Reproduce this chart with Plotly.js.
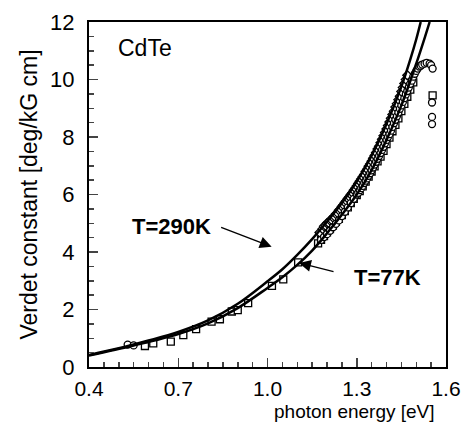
<!DOCTYPE html>
<html><head><meta charset="utf-8">
<script src="https://cdn.plot.ly/plotly-3.0.1.min.js"></script>
<style>html,body{margin:0;padding:0;background:#fff}</style>
</head><body><div id="chart" style="width:464px;height:423px"></div>
<script>
// Fitted curves
const curve290E = [0.40,0.50,0.60,0.70,0.80,0.90,1.00,1.05,1.10,1.15,1.20,1.25,1.30,1.35,1.40,1.45,1.48,1.50,1.515];
const curve290V = [0.42,0.65,0.92,1.22,1.62,2.20,2.98,3.40,3.90,4.45,5.05,5.70,6.45,7.35,8.45,9.75,10.70,11.40,12.0];
const curve77E = [0.40,0.55,0.70,0.80,0.90,1.00,1.05,1.10,1.15,1.20,1.25,1.30,1.35,1.40,1.45,1.50,1.53,1.545];
const curve77V = [0.40,0.75,1.15,1.52,2.05,2.75,3.12,3.55,4.05,4.65,5.30,6.00,6.85,7.90,9.10,10.55,11.50,12.0];
// Measured points
const sqE = [0.588,0.616,0.675,0.717,0.76,0.812,0.84,0.88,0.90,0.935,1.015,1.053,1.103,1.17,1.18,1.19,1.20,1.21,1.22,1.23,1.24,1.25,1.26,1.27,1.28,1.29,1.30,1.31,1.32,1.33,1.34,1.35,1.36,1.37,1.38,1.39,1.40,1.41,1.42,1.43,1.44,1.45,1.46,1.47,1.48,1.49,1.555];
const sqV = [0.73,0.82,0.88,1.11,1.32,1.58,1.66,1.93,1.98,2.22,2.82,3.05,3.64,4.30,4.42,4.55,4.68,4.80,4.92,5.05,5.15,5.28,5.42,5.55,5.70,5.85,5.98,6.12,6.28,6.45,6.62,6.80,6.98,7.15,7.32,7.52,7.75,7.98,8.20,8.42,8.65,8.90,9.15,9.40,9.65,9.90,9.45];
const diE = [1.175,1.185,1.19,1.195,1.20,1.205,1.21,1.215,1.22,1.225,1.23,1.235,1.24,1.245,1.25,1.255,1.26,1.265,1.27,1.275,1.28,1.285,1.29,1.295,1.30,1.305,1.31,1.315,1.32,1.325,1.33,1.335,1.34,1.345,1.35,1.355,1.36,1.365,1.37,1.375,1.38,1.385,1.39,1.395,1.40,1.405,1.41,1.415,1.42,1.425,1.43,1.435,1.44,1.445,1.45,1.455,1.46,1.465,1.47];
const diV = [4.68,4.80,4.90,4.92,5.00,5.02,5.10,5.12,5.20,5.24,5.32,5.36,5.45,5.50,5.58,5.64,5.72,5.78,5.86,5.92,6.00,6.06,6.15,6.22,6.30,6.38,6.46,6.54,6.62,6.70,6.80,6.88,6.98,7.06,7.16,7.26,7.36,7.46,7.58,7.68,7.80,7.92,8.04,8.16,8.28,8.40,8.52,8.65,8.78,8.90,9.04,9.16,9.30,9.42,9.58,9.72,9.86,10.0,10.15];
const ciE = [0.53,0.55,1.18,1.19,1.20,1.21,1.22,1.23,1.24,1.25,1.26,1.27,1.28,1.29,1.30,1.305,1.31,1.315,1.32,1.325,1.33,1.335,1.34,1.345,1.35,1.355,1.36,1.365,1.37,1.375,1.38,1.385,1.39,1.395,1.40,1.405,1.41,1.415,1.42,1.425,1.43,1.435,1.44,1.445,1.45,1.455,1.46,1.465,1.47,1.475,1.48,1.485,1.49,1.495,1.50,1.505,1.51,1.515,1.52,1.528,1.535,1.545,1.55,1.555,1.553,1.553,1.553];
const ciV = [0.78,0.75,4.42,4.52,4.62,4.74,4.86,4.98,5.10,5.25,5.40,5.55,5.70,5.85,6.00,6.06,6.15,6.22,6.30,6.40,6.48,6.56,6.65,6.74,6.84,6.94,7.04,7.14,7.24,7.34,7.44,7.55,7.66,7.78,7.90,8.00,8.10,8.22,8.35,8.48,8.60,8.72,8.85,8.98,9.10,9.22,9.35,9.48,9.60,9.72,9.85,9.96,10.10,10.20,10.30,10.38,10.45,10.48,10.52,10.55,10.58,10.55,10.50,10.38,9.20,8.70,8.45];
const xTicks = [0.4,0.7,1.0,1.3,1.6];
const xTickText = ['0.4','0.7','1.0','1.3','1.6'];
const yTicks = [0,2,4,6,8,10,12];

const F = 'Liberation Sans, Arial, Helvetica, sans-serif';
const mk = (sym) => ({symbol: sym, size: 7, color: 'white', line: {color: 'black', width: 1.3}});
const data = [
  {x: sqE, y: sqV, mode: 'markers', marker: mk('square')},
  {x: diE, y: diV, mode: 'markers', marker: mk('diamond')},
  {x: ciE, y: ciV, mode: 'markers', marker: mk('circle')},
  {x: curve290E, y: curve290V, mode: 'lines', line: {color: 'black', width: 2.5, shape: 'spline'}},
  {x: curve77E, y: curve77V, mode: 'lines', line: {color: 'black', width: 2.5, shape: 'spline'}}
];
const layout = {
  width: 464, height: 423, showlegend: false,
  margin: {l: 89, r: 18, t: 22, b: 56},
  paper_bgcolor: 'white', plot_bgcolor: 'white',
  font: {family: F, color: 'black'},
  xaxis: {range: [0.4, 1.6], tickvals: xTicks, ticktext: xTickText, ticks: 'inside', ticklen: 9, tickwidth: 1.5,
    minor: {dtick: 0.05, tick0: 0.4, ticks: 'inside', ticklen: 5, tickwidth: 1.5, showgrid: false},
    showline: true, linewidth: 2, linecolor: 'black', mirror: true, showgrid: false, zeroline: false,
    tickfont: {size: 21, family: F}, ticklabelstandoff: 2},
  yaxis: {range: [0, 12], tickvals: yTicks, ticks: 'inside', ticklen: 9, tickwidth: 1.5,
    minor: {dtick: 0.5, tick0: 0, ticks: 'inside', ticklen: 5, tickwidth: 1.5, showgrid: false},
    showline: true, linewidth: 2, linecolor: 'black', mirror: true, showgrid: false, zeroline: false,
    tickfont: {size: 22, family: F}, ticklabelstandoff: 8,
    title: {text: 'Verdet constant [deg/kG cm]', font: {size: 23, family: F}, standoff: 6}},
  annotations: [
    {xref: 'paper', yref: 'paper', x: 0.975, y: -0.128, xanchor: 'right', yanchor: 'middle', showarrow: false,
     text: 'photon energy [eV]', font: {size: 19, family: F}},
    {x: 0.588, y: 11.1, text: 'CdTe', showarrow: false, font: {size: 23, family: F}},
    {x: 0.677, y: 4.9, text: '<b>T=290K</b>', showarrow: false, font: {size: 22, family: F}},
    {x: 1.403, y: 3.13, text: '<b>T=77K</b>', showarrow: false, font: {size: 22, family: F}},
    {x: 1.014, y: 4.18, ax: -52, ay: -20, text: '', showarrow: true, arrowhead: 2, arrowsize: 1.7, arrowwidth: 1.4, arrowcolor: 'black'},
    {x: 1.106, y: 3.62, ax: 36, ay: 9, text: '', showarrow: true, arrowhead: 2, arrowsize: 1.7, arrowwidth: 1.4, arrowcolor: 'black'}
  ]
};
Plotly.newPlot('chart', data, layout, {displayModeBar: false, staticPlot: true});
</script></body></html>
